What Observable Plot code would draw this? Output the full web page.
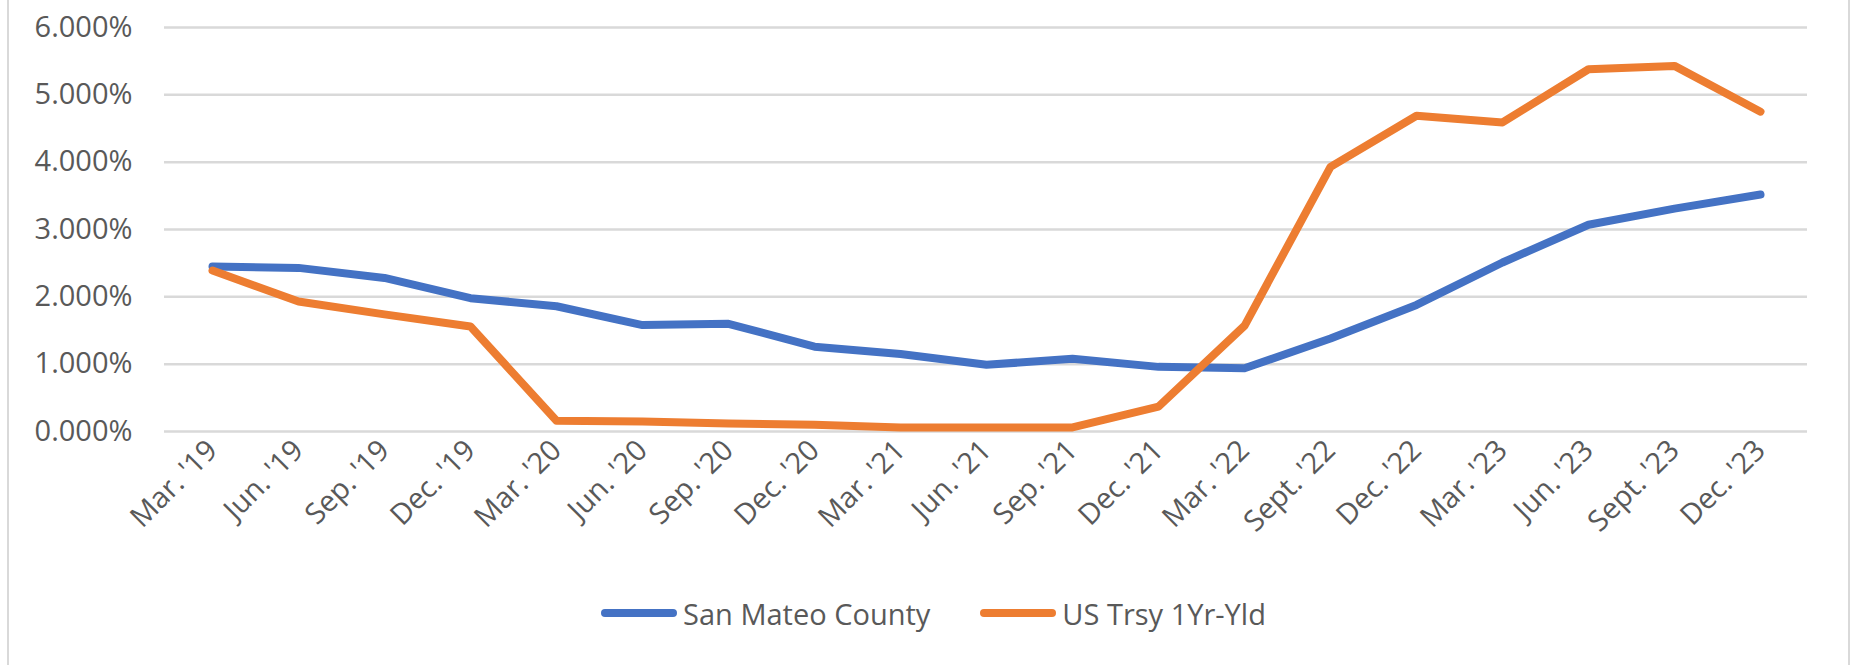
<!DOCTYPE html>
<html><head><meta charset="utf-8">
<script src="https://cdn.jsdelivr.net/npm/d3@7"></script>
<script src="https://cdn.jsdelivr.net/npm/@observablehq/plot@0.6"></script>
<style>
html,body{margin:0;padding:0;background:#fff;}
body{width:1851px;height:665px;position:relative;overflow:hidden;font-family:"Open Sans",sans-serif;}
#frame{position:absolute;left:7px;top:0;width:1843px;height:665px;border-left:2px solid #d9d9d9;border-right:2px solid #d9d9d9;box-sizing:border-box;pointer-events:none;}
#chart svg{display:block;}
#legend{position:relative;height:66px;display:flex;align-items:center;justify-content:center;padding-left:16px;box-sizing:border-box;color:#595959;font-size:29px;}
.item{display:flex;align-items:center;}
.item + .item{margin-left:50px;}
.item svg{margin-right:6px;display:block;}
</style>
</head><body>
<div id="chart"></div>
<div id="legend"></div>
<div id="frame"></div>
<script>
const categories = ["Mar. '19","Jun. '19","Sep. '19","Dec. '19","Mar. '20","Jun. '20","Sep. '20","Dec. '20","Mar. '21","Jun. '21","Sep. '21","Dec. '21","Mar. '22","Sept. '22","Dec. '22","Mar. '23","Jun. '23","Sept. '23","Dec. '23"];
const sanMateo = [2.45,2.43,2.28,1.98,1.86,1.58,1.60,1.26,1.15,0.99,1.08,0.96,0.94,1.38,1.88,2.51,3.07,3.31,3.52];
const treasury = [2.39,1.93,1.74,1.56,0.16,0.15,0.12,0.10,0.06,0.06,0.06,0.37,1.57,3.93,4.69,4.59,5.38,5.43,4.75];
const seriesNames = ["San Mateo County","US Trsy 1Yr-Yld"];
const seriesColors = ["#4472C4","#ED7D31"];
const yTicks = [0,1,2,3,4,5,6];

const rows = [];
categories.forEach((c,i)=>{
  rows.push({cat:c, series:seriesNames[0], v:sanMateo[i]});
});
categories.forEach((c,i)=>{
  rows.push({cat:c, series:seriesNames[1], v:treasury[i]});
});

const chart = Plot.plot({
  width:1851, height:580,
  marginLeft:164, marginRight:44, marginTop:27, marginBottom:149,
  style:{fontFamily:'"Open Sans", sans-serif', fontSize:"29px", color:"#595959", background:"#fff", overflow:"visible"},
  x:{type:"point", domain:categories, padding:0.5, label:null},
  y:{domain:[0,6], label:null},
  color:{domain:seriesNames, range:seriesColors},
  marks:[
    Plot.gridY(yTicks, {stroke:"#d9d9d9", strokeOpacity:1, strokeWidth:2.5}),
    Plot.axisY(yTicks, {tickSize:0, tickPadding:32, tickFormat:d=>d.toFixed(3)+"%", label:null}),
    Plot.axisX({tickSize:0, tickRotate:-45, tickPadding:14, label:null}),
    Plot.line(rows, {x:"cat", y:"v", z:"series", stroke:"series", strokeWidth:8, strokeLinecap:"round", strokeLinejoin:"round"})
  ]
});
document.getElementById("chart").appendChild(chart);

const legend = document.getElementById("legend");
seriesNames.forEach((name,i)=>{
  const item = document.createElement("div");
  item.className = "item";
  item.innerHTML = `<svg width="76" height="12"><line x1="4" y1="6" x2="72" y2="6" stroke="${seriesColors[i]}" stroke-width="8" stroke-linecap="round"/></svg><span>${name}</span>`;
  legend.appendChild(item);
});
</script>
</body></html>
